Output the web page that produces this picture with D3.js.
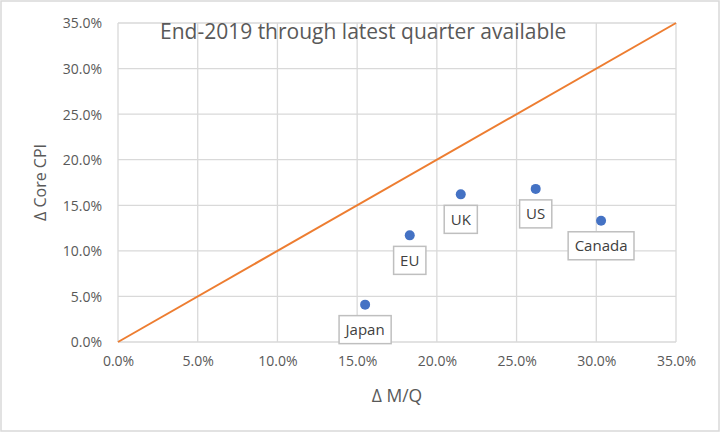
<!DOCTYPE html>
<html>
<head>
<meta charset="utf-8">
<script src="https://cdn.jsdelivr.net/npm/d3@7"></script>
<style>
  body { margin: 0; background: #fff; }
  text { font-family: "Open Sans", "Noto Sans", sans-serif; }
</style>
</head>
<body>
<div id="chart"></div>
<script>
// data (percent)
var countries = ["Japan", "EU", "UK", "US", "Canada"];
var moneyGrowth = [15.5, 18.3, 21.5, 26.2, 30.3];   // Δ M/Q
var coreCpi = [4.1, 11.7, 16.2, 16.8, 13.3];         // Δ Core CPI
var ticks = [0, 5, 10, 15, 20, 25, 30, 35];
var diagonal = [0, 35];
var title = "End-2019 through latest quarter available";

var width = 721, height = 433;
var margin = {left: 118, right: 45, top: 23, bottom: 91};

var svg = d3.select("#chart")
    .append("svg")
    .attr("width", width)
    .attr("height", height);

// chart border
svg.append("rect")
    .attr("x", 1).attr("y", 1)
    .attr("width", width - 3).attr("height", height - 3)
    .attr("fill", "#fff")
    .attr("stroke", "#d9d9d9")
    .attr("stroke-width", 1.5);

var x = d3.scaleLinear().domain([0, 35]).range([margin.left, width - margin.right]);
var y = d3.scaleLinear().domain([0, 35]).range([height - margin.bottom, margin.top]);

var fmt = function(d){ return d.toFixed(1) + "%"; };

// grid
var g = svg.append("g");
g.selectAll(".vgrid").data(ticks).enter().append("line")
    .attr("x1", d => x(d)).attr("x2", d => x(d))
    .attr("y1", y(0)).attr("y2", y(35))
    .attr("stroke", "#d9d9d9").attr("stroke-width", 1.3);
g.selectAll(".hgrid").data(ticks).enter().append("line")
    .attr("x1", x(0)).attr("x2", x(35))
    .attr("y1", d => y(d)).attr("y2", d => y(d))
    .attr("stroke", "#d9d9d9").attr("stroke-width", 1.3);

// axes (labels only, Excel style)
var xAxis = svg.append("g")
    .attr("transform", "translate(0," + y(0) + ")")
    .call(d3.axisBottom(x).tickValues(ticks).tickFormat(fmt).tickSize(0).tickPadding(14));
var yAxis = svg.append("g")
    .attr("transform", "translate(" + x(0) + ",0)")
    .call(d3.axisLeft(y).tickValues(ticks).tickFormat(fmt).tickSize(0).tickPadding(16));
[xAxis, yAxis].forEach(function(a){
  a.select(".domain").remove();
  a.selectAll("text")
    .attr("fill", "#595959")
    .style("font-size", "14px")
    .style("font-family", "\"Open Sans\", sans-serif");
});
yAxis.selectAll("text").attr("dy", "0.35em");

// 45 degree line
svg.append("line")
    .attr("x1", x(diagonal[0])).attr("y1", y(diagonal[0]))
    .attr("x2", x(diagonal[1])).attr("y2", y(diagonal[1]))
    .attr("stroke", "#ed7d31").attr("stroke-width", 2);

// points
var pts = countries.map(function(c, i){ return {name: c, x: moneyGrowth[i], y: coreCpi[i]}; });

svg.selectAll(".dot").data(pts).enter().append("circle")
    .attr("cx", d => x(d.x)).attr("cy", d => y(d.y))
    .attr("r", 5)
    .attr("fill", "#4472c4");

// data labels in boxes below each point
var lab = svg.selectAll(".lab").data(pts).enter().append("g")
    .attr("transform", d => "translate(" + x(d.x) + "," + (y(d.y) + 11) + ")");
var labText = lab.append("text")
    .attr("x", 0).attr("y", 14)
    .attr("dy", "0.35em")
    .attr("text-anchor", "middle")
    .attr("fill", "#404040")
    .style("font-size", "15px")
    .text(d => d.name);
labText.each(function(){
  var w = this.getComputedTextLength();
  d3.select(this.parentNode).insert("rect", "text")
    .attr("x", -w / 2 - 6.5).attr("y", 0)
    .attr("width", w + 13).attr("height", 28)
    .attr("fill", "#fff")
    .attr("stroke", "#bfbfbf")
    .attr("stroke-width", 1.5);
});

// title inside plot
svg.append("text")
    .attr("x", 160).attr("y", 39)
    .attr("fill", "#595959")
    .style("font-size", "21px")
    .text(title);

// axis titles
svg.append("text")
    .attr("x", x(17.5)).attr("y", 402)
    .attr("text-anchor", "middle")
    .attr("fill", "#595959")
    .style("font-size", "17.5px")
    .text("\u0394 M/Q");
svg.append("text")
    .attr("transform", "translate(46," + y(17.5) + ") rotate(-90)")
    .attr("text-anchor", "middle")
    .attr("fill", "#595959")
    .style("font-size", "16px")
    .text("\u0394 Core CPI");
</script>
</body>
</html>
